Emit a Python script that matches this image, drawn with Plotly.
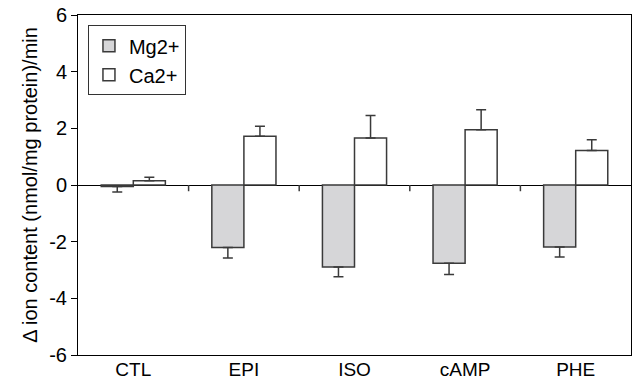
import plotly.graph_objects as go

categories = ["CTL", "EPI", "ISO", "cAMP", "PHE"]
mg_values = [-0.05, -2.21, -2.89, -2.76, -2.19]
mg_err = [0.2, 0.37, 0.35, 0.4, 0.35]
ca_values = [0.15, 1.72, 1.66, 1.95, 1.22]
ca_err = [0.12, 0.35, 0.79, 0.71, 0.38]
y_ticks = [-6, -4, -2, 0, 2, 4, 6]
y_tick_text = ["-6", "-4", "-2", "0", "2", "4", "6"]

FONT = "Liberation Sans, Arial, Helvetica, sans-serif"
EDGE = "#3a3a3a"

fig = go.Figure()
fig.add_trace(go.Bar(
    name="Mg2+", x=categories, y=mg_values,
    marker=dict(color="#d6d6d8", line=dict(color=EDGE, width=1.5)),
    error_y=dict(type="data", symmetric=False,
                 array=[0] * len(mg_err), arrayminus=mg_err,
                 color=EDGE, thickness=1.5, width=5),
))
fig.add_trace(go.Bar(
    name="Ca2+", x=categories, y=ca_values,
    marker=dict(color="white", line=dict(color=EDGE, width=1.5)),
    error_y=dict(type="data", symmetric=False,
                 array=ca_err, arrayminus=[0] * len(ca_err),
                 color=EDGE, thickness=1.5, width=5),
))

# small category-boundary ticks on the zero line
for i in range(len(categories) - 1):
    fig.add_shape(type="line", xref="x", yref="y",
                  x0=i + 0.5, x1=i + 0.5, y0=0, y1=-0.22,
                  line=dict(color=EDGE, width=1.5))

fig.update_layout(
    width=633, height=380,
    margin=dict(l=78, r=2, t=15, b=25),
    paper_bgcolor="white", plot_bgcolor="white",
    barmode="group", bargap=0.42, bargroupgap=0,
    font=dict(family=FONT, size=20, color="black"),
    showlegend=True,
    legend=dict(x=0.018, y=0.97, xanchor="left", yanchor="top",
                bgcolor="white", bordercolor="#333", borderwidth=1,
                font=dict(size=20), itemwidth=30,
                tracegroupgap=6),
    xaxis=dict(showline=True, linecolor="black", linewidth=1, mirror=True,
               ticks="", showgrid=False, tickfont=dict(size=19),
               automargin=False, ticklabelstandoff=-3),
    yaxis=dict(range=[-6, 6], tickvals=y_ticks, ticktext=y_tick_text,
               showline=True, linecolor="black", linewidth=1, mirror=True,
               ticks="outside", ticklen=6, tickcolor="black",
               showgrid=False, zeroline=True, zerolinecolor="black",
               zerolinewidth=1.2, tickfont=dict(size=20),
               ticklabelstandoff=0, automargin=False,
               title=dict(text="\u0394 ion content (nmol/mg protein)/min",
                          font=dict(size=20), standoff=6)),
)

fig.write_html("out.html")
